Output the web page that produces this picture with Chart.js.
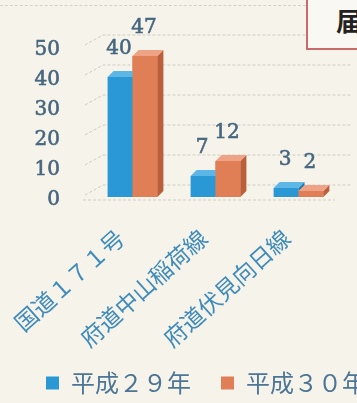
<!DOCTYPE html>
<html><head><meta charset="utf-8">
<script src="https://cdn.jsdelivr.net/npm/chart.js@4/dist/chart.umd.min.js"></script>
<style>
html,body{margin:0;padding:0;background:#f5f3ea;overflow:hidden;width:357px;height:403px;}
#wrap{position:relative;width:357px;height:403px;overflow:hidden;background:#f5f3ea;}
#c{position:absolute;left:0;top:0;width:412px;height:405px;}
#topline{position:absolute;left:0;top:5px;width:306px;height:0;border-top:1px dashed rgba(150,150,140,0.35);}
#tag{position:absolute;left:306px;top:-10px;width:70px;height:60px;border:2.5px solid #c96b68;background:#faf8f2;box-sizing:border-box;}
#tag span{position:absolute;left:28px;top:15px;font:bold 26px/26px "Noto Sans CJK JP";color:#222;}
</style></head><body>
<div id="wrap">
<div id="topline"></div>
<canvas id="c" width="412" height="405"></canvas>
<div id="tag"><span>届</span></div>
</div>
<script>
const categories = ['国道１７１号', '府道中山稲荷線', '府道伏見向日線'];
const seriesNames = ['平成２９年', '平成３０年'];
const valuesH29 = [40, 7, 3];
const valuesH30 = [47, 12, 2];
const yTickValues = [0, 10, 20, 30, 40, 50];

const BLUE = '#2a98d4', BLUE_TOP = '#5db7e6', BLUE_SIDE = '#1b78ad';
const ORANGE = '#e07e56', ORANGE_TOP = '#eea386', ORANGE_SIDE = '#bb5e3b';
const NUM_COLOR = '#47667f';

const wallPlugin = {
  id: 'wall',
  beforeDatasetsDraw(chart) {
    const ctx = chart.ctx, y = chart.scales.y, a = chart.chartArea;
    ctx.save();
    ctx.strokeStyle = 'rgba(150,150,140,0.4)';
    ctx.lineWidth = 1;
    ctx.setLineDash([3, 2]);
    yTickValues.forEach(v => {
      const py = y.getPixelForValue(v);
      ctx.beginPath();
      ctx.moveTo(a.left - 6, py - 2);
      ctx.lineTo(a.left + 12, py - 12);
      ctx.lineTo(a.right + 12, py - 12);
      ctx.stroke();
    });
    const p0 = y.getPixelForValue(0);
    ctx.beginPath();
    ctx.moveTo(a.left - 8, p0 + 3);
    ctx.lineTo(a.right - 5, p0 + 3);
    ctx.stroke();
    ctx.restore();
  }
};

function drawDepth(ctx, el, topColor, sideColor) {
  const d = 6;
  const l = el.x - el.width / 2, r = el.x + el.width / 2, t = el.y, b = el.base;
  ctx.fillStyle = sideColor;
  ctx.beginPath();
  ctx.moveTo(r, t); ctx.lineTo(r + d, t - d); ctx.lineTo(r + d, b - d); ctx.lineTo(r, b);
  ctx.closePath(); ctx.fill();
  ctx.fillStyle = topColor;
  ctx.beginPath();
  ctx.moveTo(l, t); ctx.lineTo(l + d, t - d); ctx.lineTo(r + d, t - d); ctx.lineTo(r, t);
  ctx.closePath(); ctx.fill();
}

const depthPlugin = {
  id: 'depth',
  afterDatasetsDraw(chart) {
    const ctx = chart.ctx;
    const m0 = chart.getDatasetMeta(0).data, m1 = chart.getDatasetMeta(1).data;
    ctx.save();
    categories.forEach((c, i) => {
      const b = m0[i], o = m1[i];
      drawDepth(ctx, b, BLUE_TOP, BLUE_SIDE);
      ctx.fillStyle = ORANGE;
      ctx.fillRect(o.x - o.width / 2, o.y, o.width, o.base - o.y);
      drawDepth(ctx, o, ORANGE_TOP, ORANGE_SIDE);
    });
    // value labels
    ctx.fillStyle = NUM_COLOR;
    ctx.strokeStyle = NUM_COLOR;
    ctx.lineWidth = 0.6;
    ctx.font = '20px "DejaVu Serif"';
    ctx.textAlign = 'center';
    ctx.textBaseline = 'alphabetic';
    chart.data.datasets.forEach((ds, di) => {
      chart.getDatasetMeta(di).data.forEach((el, i) => {
        const t = String(ds.data[i]);
        ctx.fillText(t, el.x - 1, el.y - 23);
        ctx.strokeText(t, el.x - 1, el.y - 23);
      });
    });
    ctx.restore();
  }
};

new Chart(document.getElementById('c'), {
  type: 'bar',
  data: {
    labels: categories,
    datasets: [
      { label: seriesNames[0], data: valuesH29, backgroundColor: BLUE, borderWidth: 0, categoryPercentage: 0.6, barPercentage: 1.0 },
      { label: seriesNames[1], data: valuesH30, backgroundColor: ORANGE, borderWidth: 0, categoryPercentage: 0.6, barPercentage: 1.0 }
    ]
  },
  options: {
    responsive: false,
    animation: false,
    devicePixelRatio: 1,
    layout: { padding: { top: 47, left: 0, right: 0, bottom: 0 } },
    plugins: {
      tooltip: { enabled: false },
      legend: {
        position: 'bottom',
        labels: {
          font: { family: '"Noto Sans CJK JP"', size: 24 },
          color: '#4d7596',
          boxWidth: 13,
          boxHeight: 13,
          padding: 6,
          generateLabels(chart) {
            const items = Chart.defaults.plugins.legend.labels.generateLabels(chart);
            items.forEach((it, i) => { if (i < items.length - 1) it.text = it.text + '　'; it.lineWidth = 0; });
            return items;
          }
        }
      }
    },
    scales: {
      x: {
        grid: { display: false },
        border: { display: false },
        ticks: {
          autoSkip: false,
          minRotation: 42,
          maxRotation: 42,
          padding: 19,
          labelOffset: -12,
          color: '#3f8bbb',
          font: { family: '"Noto Sans CJK JP"', size: 23 }
        },
        afterFit(s) { s.height = 168; s.paddingLeft = 0; s.paddingRight = 0; }
      },
      y: {
        min: 0, max: 50,
        grid: { display: false, drawTicks: false },
        border: { display: false },
        afterBuildTicks(s) { s.ticks = yTickValues.map(v => ({ value: v })); },
        ticks: {
          padding: 31,
          labelOffset: 3,
          color: NUM_COLOR,
          textStrokeColor: NUM_COLOR,
          textStrokeWidth: 0.6,
          font: { family: '"DejaVu Serif"', size: 20 }
        },
        afterFit(s) { s.width = 91; }
      },
      yr: {
        type: 'linear',
        position: 'right',
        display: true,
        grid: { display: false, drawTicks: false },
        border: { display: false },
        ticks: { display: false },
        afterFit(s) { s.width = 72; }
      }
    }
  },
  plugins: [wallPlugin, depthPlugin]
});
</script>
</body></html>
